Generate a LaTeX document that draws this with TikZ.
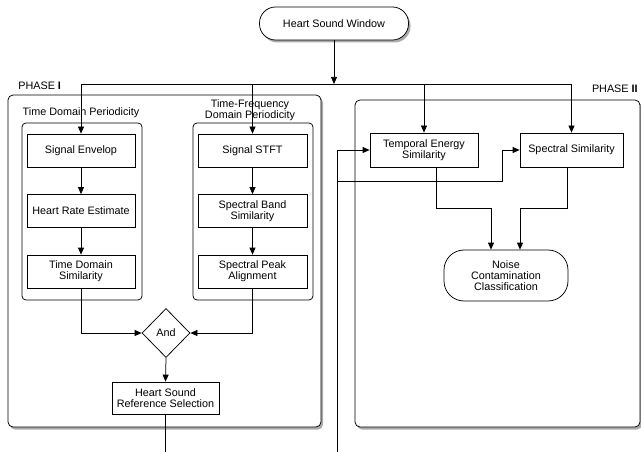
\documentclass[tikz,border=0pt]{standalone}
\usepackage{fontspec}
\setmainfont{Liberation Sans}
\usetikzlibrary{arrows.meta,shapes.geometric,shadows}
\begin{document}
\begin{tikzpicture}[x=1pt,y=-1pt,
  font=\fontsize{10.8}{12.6}\selectfont,
  line width=0.75pt,
  proc/.style={draw, rectangle, align=center, inner sep=1pt, fill=white},
  inner/.style={draw, rectangle, rounded corners=4pt, minimum width=120pt, minimum height=177pt, inner sep=0pt},
  phasebox/.style={draw, rectangle, rounded corners=5pt, fill=white, inner sep=0pt,
    drop shadow={shadow xshift=2pt, shadow yshift=-2.5pt, fill=black!55, opacity=0.6}},
  arr/.style={-{Triangle[length=7pt,width=6pt]}},
  lbl/.style={align=center, inner sep=0pt}]
\useasboundingbox (0,0) rectangle (641,452);

% phase boxes
\node[phasebox, minimum width=313pt, minimum height=332pt] (p1) at (164.5,261) {};
\node[phasebox, minimum width=285pt, minimum height=327pt] (p2) at (497.5,263.5) {};
\node[lbl, anchor=west] (ph1) at (18,86) {PHASE \textbf{I}};
\node[lbl, anchor=east] (ph2) at (638,89) {PHASE \textbf{II}};

% top
\node[draw, rectangle, rounded corners=16pt, fill=white, minimum width=149pt, minimum height=33pt,
  drop shadow={shadow xshift=2pt, shadow yshift=-2.5pt, fill=black!55, opacity=0.6}] (hsw) at (334,23.5) {Heart Sound Window};

% inner boxes
\node[inner] (tdbox) at (82,211.5) {};
\node[inner] (tfbox) at (253,211.5) {};
\node[lbl] (tdl) at (81,113) {Time Domain Periodicity};
\node[lbl] (tfl) at (250,110.5) {Time-Frequency\\[-1.5pt]Domain Periodicity};

% phase I process boxes
\node[proc, minimum width=108pt, minimum height=33pt] (se) at (81,150.5) {Signal Envelop};
\node[proc, minimum width=108pt, minimum height=33pt] (hre) at (81,211) {Heart Rate Estimate};
\node[proc, minimum width=108pt, minimum height=33pt] (tds) at (81,271.5) {Time Domain\\[-1.5pt]Similarity};
\node[proc, minimum width=109pt, minimum height=33pt] (stft) at (252.5,150.5) {Signal STFT};
\node[proc, minimum width=109pt, minimum height=33pt] (sbs) at (252.5,211) {Spectral Band\\[-1.5pt]Similarity};
\node[proc, minimum width=109pt, minimum height=33pt] (spa) at (252.5,271.5) {Spectral Peak\\[-1.5pt]Alignment};
\node[draw, diamond, fill=white, minimum width=48pt, minimum height=49pt, inner sep=0pt] (and) at (166,333) {And};
\node[proc, minimum width=107pt, minimum height=32pt] (hsrs) at (165.5,398) {Heart Sound\\[-1.5pt]Reference Selection};

% phase II boxes
\node[proc, minimum width=108pt, minimum height=34pt] (tes) at (424,150) {Temporal Energy\\[-1.5pt]Similarity};
\node[proc, minimum width=103pt, minimum height=34pt] (ss) at (571.5,150) {Spectral Similarity};
\node[draw, rectangle, rounded corners=20pt, fill=white, align=center, minimum width=124pt, minimum height=51pt, inner sep=0pt] (ncc) at (506,275.5) {Noise\\[-1.5pt]Contamination\\[-1.5pt]Classification};

% connectors
\coordinate (split) at (334,84);
\draw[arr] (hsw) -- (split);
\draw[arr] (split) -| (se.north);
\draw[arr] (split) -| (stft.north);
\draw[arr] (split) -| (tes.north);
\draw[arr] (split) -| (ss.north);

\draw[arr] (se) -- (hre);
\draw[arr] (hre) -- (tds);
\draw[arr] (stft) -- (sbs);
\draw[arr] (sbs) -- (spa);
\draw[arr] (tds.south) |- (and.west);
\draw[arr] (spa.south) |- (and.east);
\draw[arr] (and.south) -- (hsrs.north);
\coordinate (out1) at (hsrs.south |- 0,452);
\draw (hsrs.south) -- (out1);

\coordinate (feedB) at (337,452);
\coordinate (feedT) at (337,150);
\coordinate (bend) at (337,181);
\coordinate (k1) at (502,181);
\draw (feedB) -- (feedT);
\draw[arr] (feedT) -- (tes.west);
\draw[arr] (bend) -- (k1) |- (ss.west);

\coordinate (mid) at (506,208);
\draw[arr] ([xshift=12pt]tes.south) |- ([xshift=-15pt]ncc.north |- mid) -- ([xshift=-15pt]ncc.north);
\draw[arr] ([xshift=-4.5pt]ss.south) |- ([xshift=14pt]ncc.north |- mid) -- ([xshift=14pt]ncc.north);
\end{tikzpicture}
\end{document}
